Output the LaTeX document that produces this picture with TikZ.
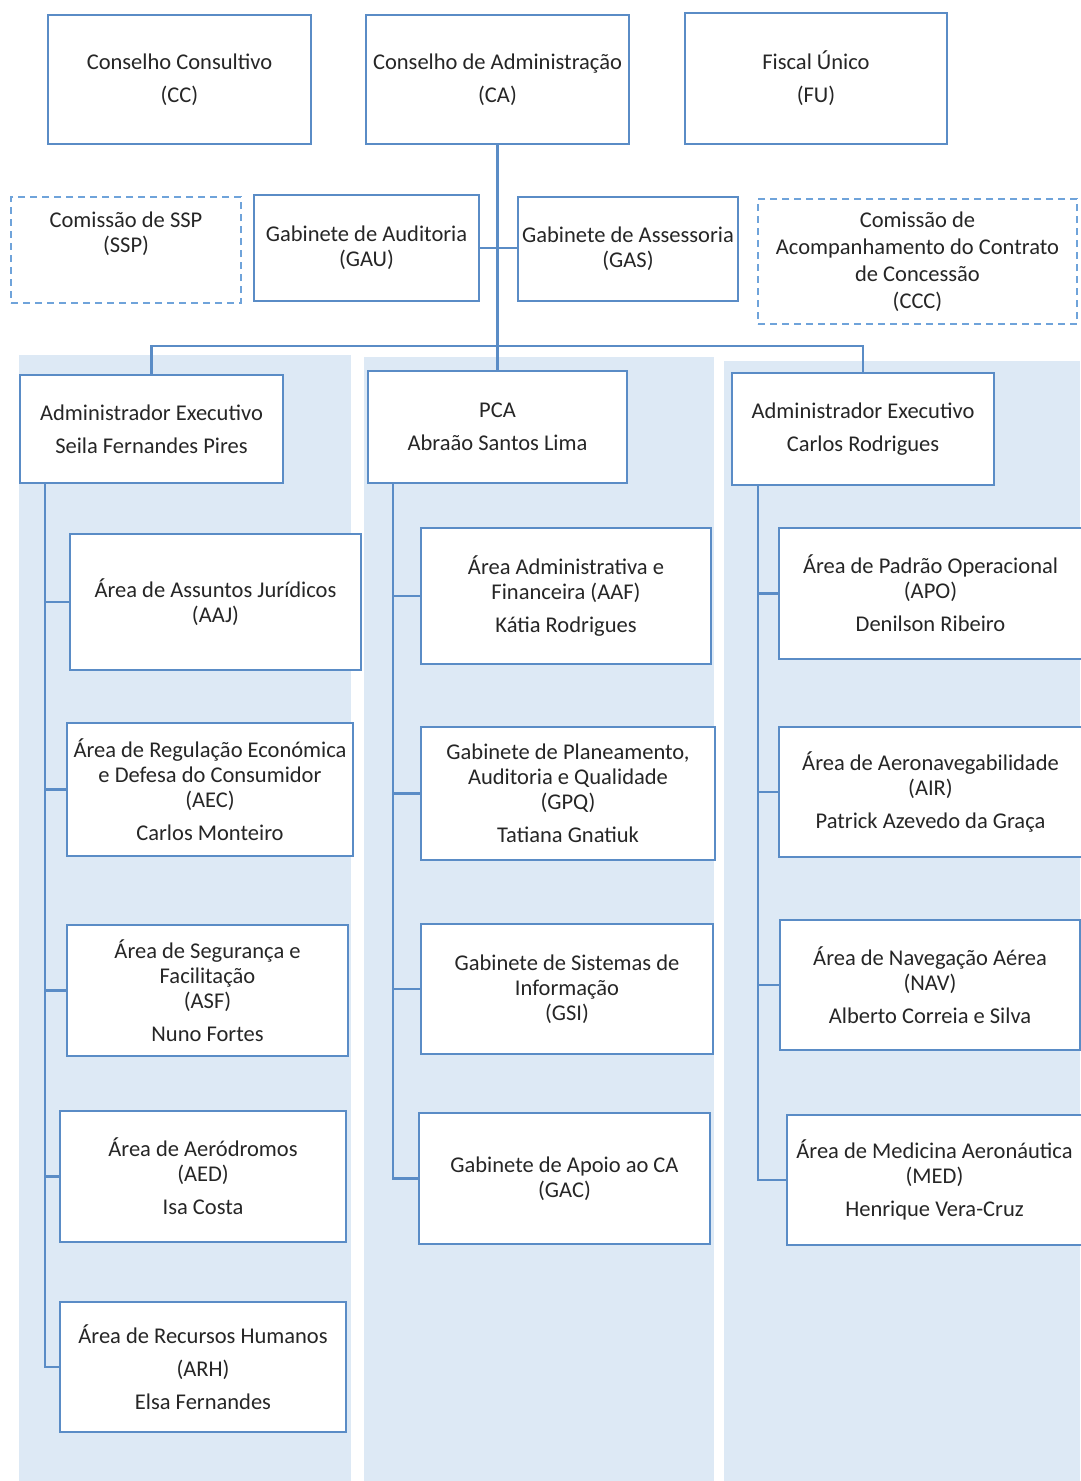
\documentclass[tikz,border=0pt]{standalone}
\usepackage{fontspec}
\setmainfont{Carlito}
\definecolor{boxline}{HTML}{5A8CC6}
\definecolor{dashline}{HTML}{6FA3DA}
\definecolor{panel}{HTML}{DDE9F5}
\definecolor{txt}{HTML}{262626}
\tikzset{
  box/.style={draw=boxline, line width=1.8pt, fill=white, rectangle, inner sep=0pt,
    align=center, text=txt, font=\fontsize{22.5}{25}\selectfont},
  dbox/.style={box, draw=dashline, dash pattern=on 7pt off 5pt},
  conn/.style={draw=boxline, line width=2.2pt},
}
\begin{document}
\begin{tikzpicture}[x=1pt,y=-1pt]
\useasboundingbox (0,0) rectangle (1080,1481);
\fill[white] (0,0) rectangle (1080,1481);
% panels
\fill[panel] (19,355) rectangle (351,1481);
\fill[panel] (364,357) rectangle (714,1481);
\fill[panel] (724,361) rectangle (1080,1481);

% top row
\node[box, minimum width=263, minimum height=129] (cc) at (179.5,79.5) {Conselho Consultivo\\[8pt](CC)};
\node[box, minimum width=263, minimum height=129] (ca) at (497.5,79.5) {Conselho de Administração\\[8pt](CA)};
\node[box, minimum width=262, minimum height=131] (fu) at (816,78.5) {Fiscal Único\\[8pt](FU)};

% second row
\node[dbox, minimum width=230, minimum height=106] (ssp) at (126,250) {Comissão de SSP\\(SSP)\\[10pt]\mbox{}};
\node[box, minimum width=225, minimum height=106] (gau) at (366.5,248) {Gabinete de Auditoria\\(GAU)};
\node[box, minimum width=220, minimum height=104] (gas) at (628,249) {Gabinete de Assessoria\\(GAS)};
\node[dbox, minimum width=319, minimum height=125, font=\fontsize{22.5}{27}\selectfont] (ccc) at (917.5,261.5) {Comissão de\\Acompanhamento do Contrato\\de Concessão\\(CCC)};

% third row
\node[box, minimum width=263, minimum height=108] (ae1) at (151.5,429) {Administrador Executivo\\[8pt]Seila Fernandes Pires};
\node[box, minimum width=259, minimum height=112] (pca) at (497.5,427) {PCA\\[8pt]Abraão Santos Lima};
\node[box, minimum width=262, minimum height=112] (ae2) at (863,429) {Administrador Executivo\\[8pt]Carlos Rodrigues};

% left column
\node[box, minimum width=291, minimum height=136] (aaj) at (215.5,602) {Área de Assuntos Jurídicos\\(AAJ)};
\node[box, minimum width=286, minimum height=133] (aec) at (210,789.5) {Área de Regulação Económica\\e Defesa do Consumidor\\(AEC)\\[8pt]Carlos Monteiro};
\node[box, minimum width=281, minimum height=131] (asf) at (207.5,990.5) {Área de Segurança e\\Facilitação\\(ASF)\\[8pt]Nuno Fortes};
\node[box, minimum width=286, minimum height=131] (aed) at (203,1176.5) {Área de Aeródromos\\(AED)\\[8pt]Isa Costa};
\node[box, minimum width=286, minimum height=130] (arh) at (203,1367) {Área de Recursos Humanos\\[8pt](ARH)\\[8pt]Elsa Fernandes};

% middle column
\node[box, minimum width=290, minimum height=136] (aaf) at (566,596) {Área Administrativa e\\Financeira (AAF)\\[8pt]Kátia Rodrigues};
\node[box, minimum width=294, minimum height=133] (gpq) at (568,793.5) {Gabinete de Planeamento,\\Auditoria e Qualidade\\(GPQ)\\[8pt]Tatiana Gnatiuk};
\node[box, minimum width=292, minimum height=130] (gsi) at (567,989) {Gabinete de Sistemas de\\Informação\\(GSI)};
\node[box, minimum width=291, minimum height=131] (gac) at (564.5,1178.5) {Gabinete de Apoio ao CA\\(GAC)};

% right column
\node[box, minimum width=303, minimum height=131] (apo) at (930.5,593.5) {Área de Padrão Operacional\\(APO)\\[8pt]Denilson Ribeiro};
\node[box, minimum width=303, minimum height=130] (air) at (930.5,792) {Área de Aeronavegabilidade\\(AIR)\\[8pt]Patrick Azevedo da Graça};
\node[box, minimum width=300, minimum height=130] (nav) at (930,985) {Área de Navegação Aérea\\(NAV)\\[8pt]Alberto Correia e Silva};
\node[box, minimum width=295, minimum height=130] (med) at (934.5,1180) {Área de Medicina Aeronáutica\\(MED)\\[8pt]Henrique Vera-Cruz};

% connectors
\coordinate (jn) at (497.5,346);
\coordinate (lt) at (45,483);
\coordinate (mt) at (393,483);
\coordinate (rt) at (758,485);

\draw[conn] (ca.south) -- (pca.north);
\draw[conn] (ae1.north) |- (jn) -| (ae2.north);
\draw[conn] (gau.east) -- (gau.east -| gas.west);

\draw[conn] (lt) |- (arh.west);
\foreach \n in {aaj,aec,asf,aed} \draw[conn] (lt |- \n.west) -- (\n.west);
\draw[conn] (mt) |- (gac.west);
\foreach \n in {aaf,gpq,gsi} \draw[conn] (mt |- \n.west) -- (\n.west);
\draw[conn] (rt) |- (med.west);
\foreach \n in {apo,air,nav} \draw[conn] (rt |- \n.west) -- (\n.west);
\end{tikzpicture}
\end{document}
